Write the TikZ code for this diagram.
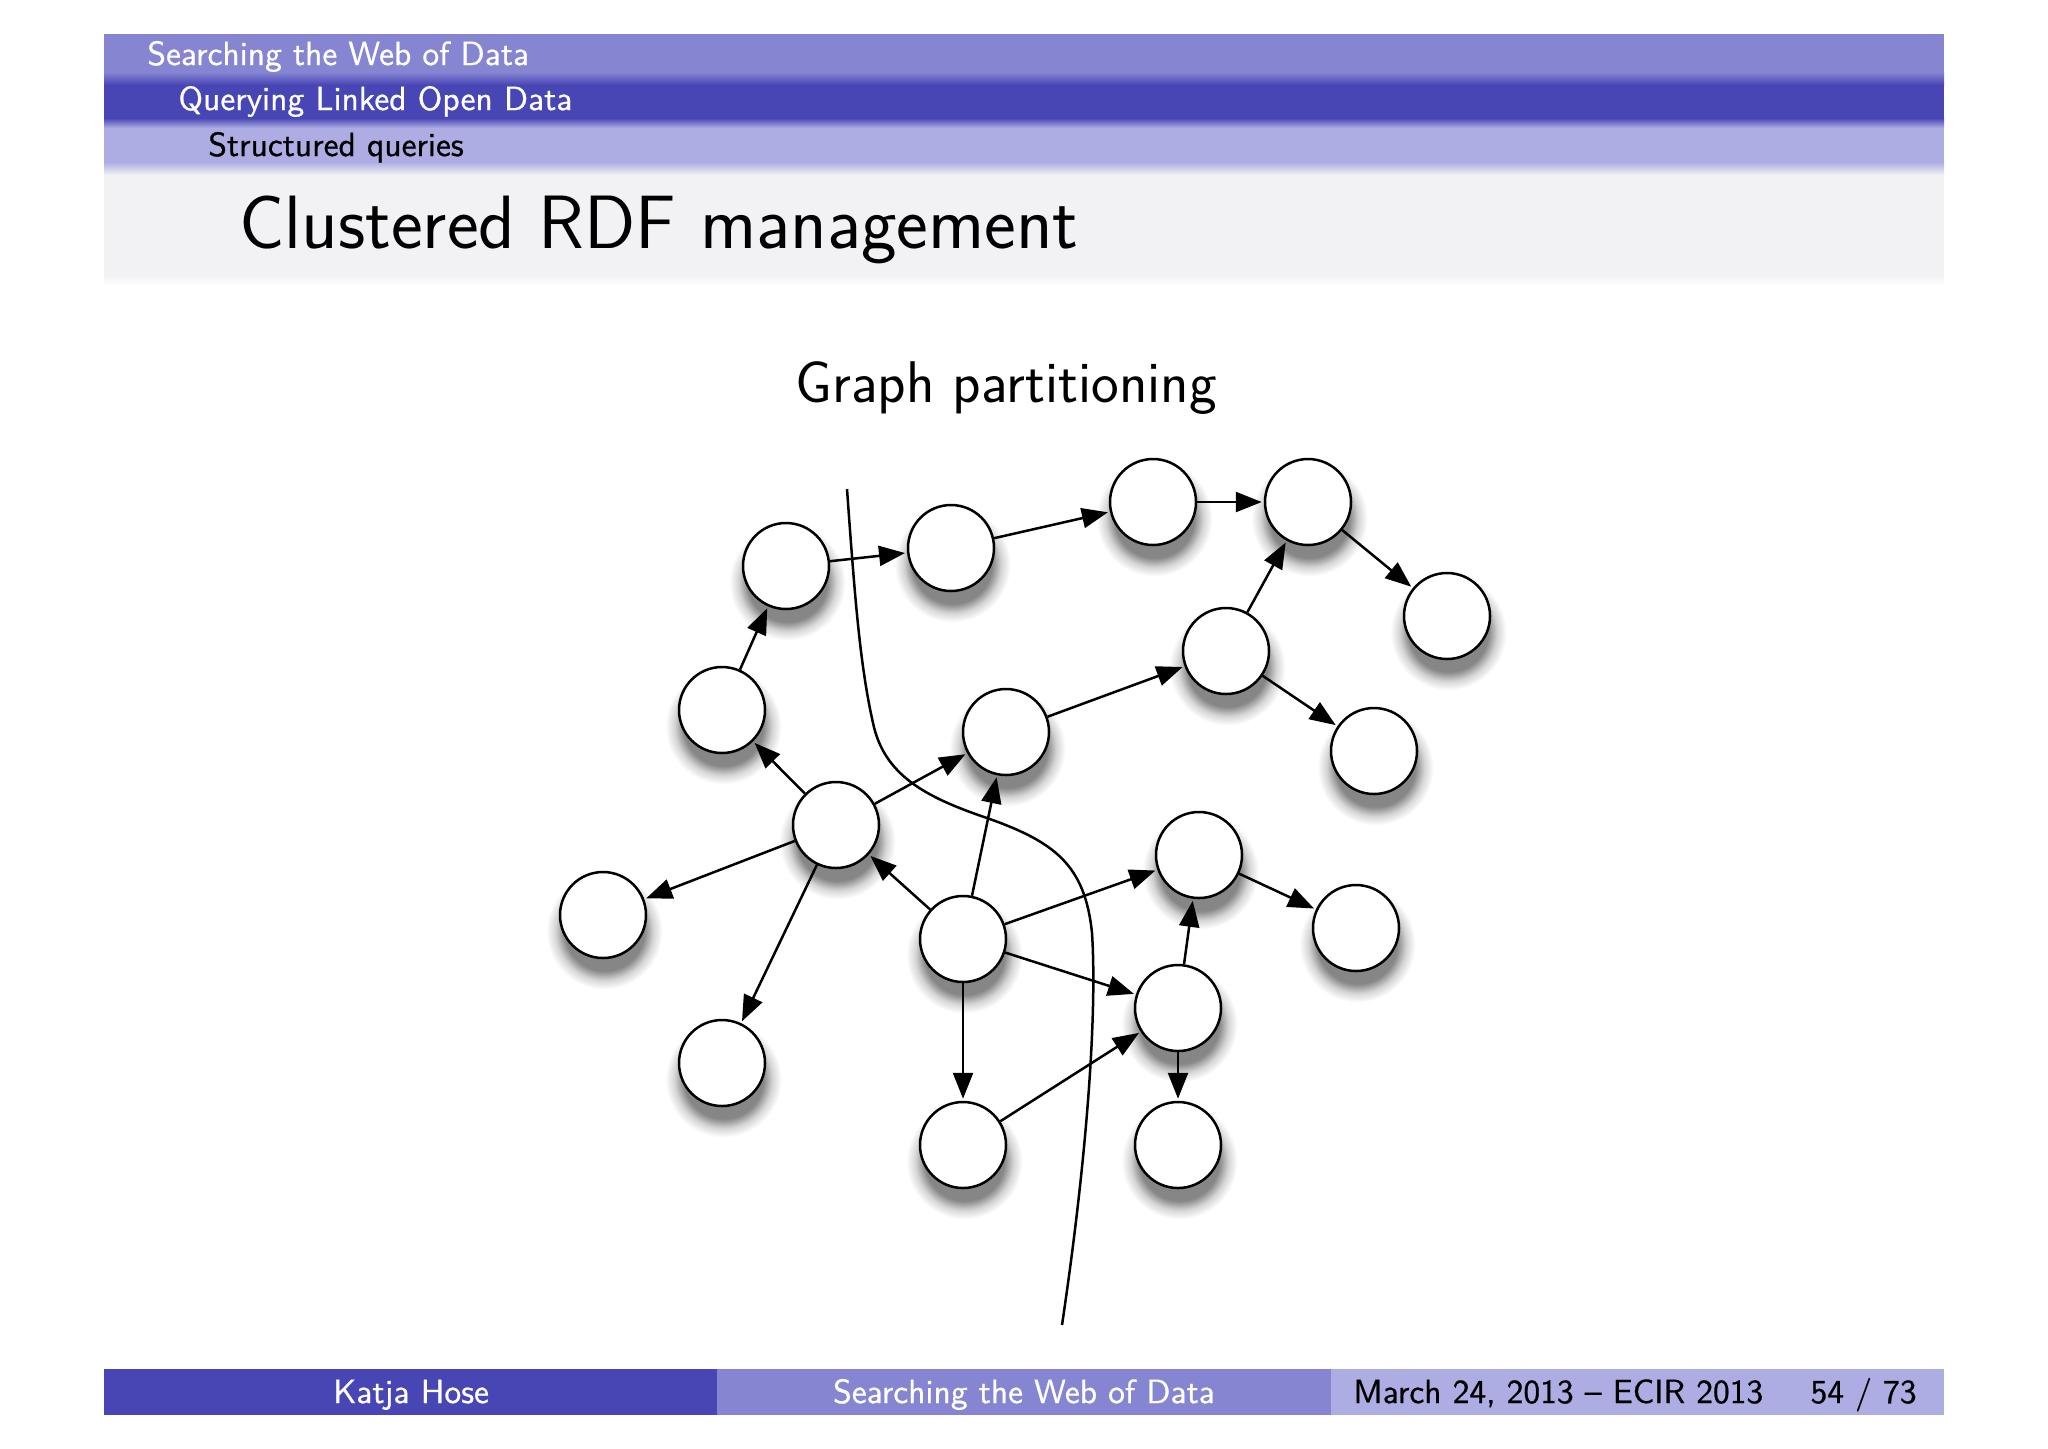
\documentclass[tikz,border=0pt]{standalone}
\usepackage{fontspec}
\renewcommand{\familydefault}{\sfdefault}
\newfontfamily\boldtext{lmsans10-regular.otf}[FakeBold=0.7]
\usetikzlibrary{arrows.meta,shadows,fadings}
\definecolor{barlight}{HTML}{ADADE3}
\definecolor{barmid}{HTML}{8685D2}
\definecolor{bardark}{HTML}{4845B5}
\definecolor{titlebg}{HTML}{F2F2F5}
\pgfdeclareradialshading{softshade}{\pgfpointorigin}{color(0bp)=(pgftransparent!0); color(17bp)=(pgftransparent!0); color(21bp)=(pgftransparent!65); color(25bp)=(pgftransparent!100); color(50bp)=(pgftransparent!100)}
\pgfdeclarefading{softedge}{\pgfuseshading{softshade}}
\tikzset{
x=0.5pt,y=-0.5pt,
>={Triangle[length=13pt,width=10pt]},
vertex/.style={draw,circle,fill=white,line width=1.25pt,inner sep=0pt,minimum size=43pt,
  circular drop shadow={shadow xshift=0.5pt,shadow yshift=-6pt,shadow scale=1.35,opacity=.95,
  path fading=softedge}},
link/.style={line width=1.25pt,shorten >=1pt},
headtext/.style={anchor=base west,inner sep=0pt,font=\boldtext\fontsize{16.75}{20}\selectfont},
foottext/.style={anchor=base,inner sep=0pt,font=\boldtext\fontsize{16.75}{20}\selectfont}
}
\begin{document}
\begin{tikzpicture}
\useasboundingbox (0,0) rectangle (2048,1448);
% header bands
\fill[barmid] (104,34) rectangle (1944,78);
\fill[bardark] (104,78) rectangle (1944,123);
\fill[barlight] (104,123) rectangle (1944,167);
\fill[titlebg] (104,167) rectangle (1944,277);
\shade[top color=barmid,bottom color=bardark] (104,72) rectangle (1944,85);
\shade[top color=bardark,bottom color=barlight] (104,118) rectangle (1944,128);
\shade[top color=barlight,bottom color=titlebg] (104,162) rectangle (1944,175);
\shade[top color=titlebg,bottom color=white] (104,275) rectangle (1944,286);
\node[headtext,text=white] (sec) at (147,65) {Searching the Web of Data};
\node[headtext,text=white] (subsec) at (178,110) {Querying Linked Open Data};
\node[headtext] (subsubsec) at (208,156) {Structured queries};
\node[anchor=base west,inner sep=0pt,font=\fontsize{37.8}{42}\selectfont] (title) at (239,248) {Clustered RDF management};
\node[anchor=base,inner sep=0pt,font=\fontsize{29.4}{34}\selectfont] (sub) at (1006,402) {Graph partitioning};
% footer
\fill[bardark] (104,1369) rectangle (717,1415);
\fill[barmid] (717,1369) rectangle (1331,1415);
\fill[barlight] (1331,1369) rectangle (1944,1415);
\node[foottext,text=white] (author) at (411,1403) {Katja Hose};
\node[foottext,text=white] (talk) at (1024,1403) {Searching the Web of Data};
\node[foottext,anchor=base west] (date) at (1353,1403) {March 24, 2013 – ECIR 2013};
\node[foottext,anchor=base east] (page) at (1917,1403) {54 / 73};
% graph
\node[vertex] (a) at (786,566) {};
\node[vertex] (b) at (951,548) {};
\node[vertex] (c) at (1153,502) {};
\node[vertex] (d) at (1308,502) {};
\node[vertex] (e) at (1447,616) {};
\node[vertex] (f) at (1226,651) {};
\node[vertex] (g) at (1374,751) {};
\node[vertex] (h) at (1006,732) {};
\node[vertex] (i) at (722,710) {};
\node[vertex] (j) at (836,825) {};
\node[vertex] (k) at (603,915) {};
\node[vertex] (l) at (722,1063) {};
\node[vertex] (m) at (963,939) {};
\node[vertex] (n) at (1199,855) {};
\node[vertex] (o) at (1356,928) {};
\node[vertex] (p) at (1178,1008) {};
\node[vertex] (q) at (963,1145) {};
\node[vertex] (r) at (1178,1145) {};

\path[->,link] (a) edge (b)
          (b) edge (c)
          (c) edge (d)
          (d) edge (e)
          (f) edge (d)
              edge (g)
          (h) edge (f)
          (i) edge (a)
          (j) edge (i)
              edge (h)
              edge (k)
              edge (l)
          (m) edge (j)
              edge (h)
              edge (n)
              edge (p)
              edge (q)
          (n) edge (o)
          (p) edge (n)
              edge (r)
          (q) edge (p);
% cut
\coordinate (cuttop) at (847,489);
\coordinate (cutleft) at (873,723);
\coordinate (cutbend) at (987,818);
\coordinate (cutside) at (1092,933);
\coordinate (cutbottom) at (1062,1325);
\draw[line width=1.25pt] (cuttop) .. controls (855,600) and (860,665) .. (cutleft)
  .. controls (884,775) and (925,797) .. (cutbend)
  .. controls (1055,842) and (1085,865) .. (cutside)
  .. controls (1097,1010) and (1088,1150) .. (cutbottom);
\end{tikzpicture}
\end{document}
